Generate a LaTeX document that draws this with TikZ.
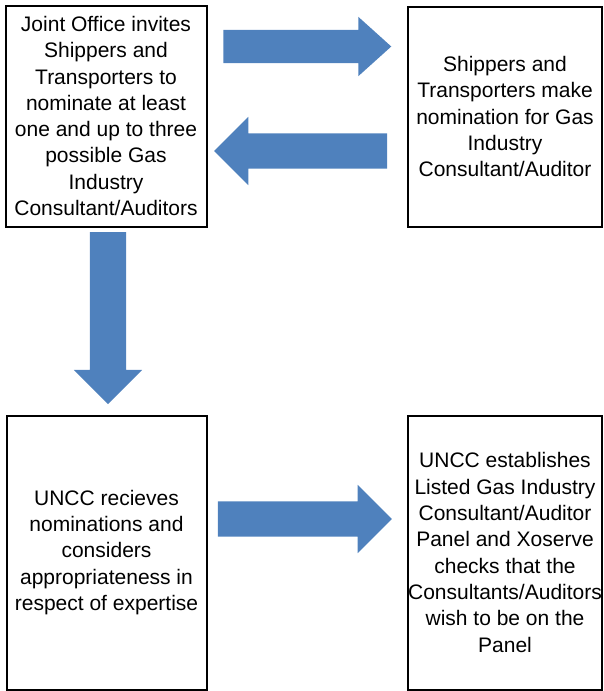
\documentclass[tikz,border=0pt]{standalone}
\usepackage{fontspec}
\setmainfont{Liberation Sans}
\usepackage{tikz}
\usetikzlibrary{positioning,shapes.arrows}
\definecolor{arrowblue}{HTML}{4F81BD}

\begin{document}
\begin{tikzpicture}[x=1pt,y=-1pt,
    stagebox/.style={draw, line width=2pt, align=center, inner sep=0pt,
      font=\fontsize{21}{26.3}\selectfont},
    bigarrow/.style={single arrow, fill=arrowblue, draw=none, inner xsep=0pt,
      single arrow tip angle=90}]
  \useasboundingbox (0,0) rectangle (604,691);

  % the four stages
  \node[stagebox, minimum width=201pt, minimum height=221pt] (invite) at (106,116)
    {Joint Office invites\\ Shippers and\\ Transporters to\\ nominate at least\\
     one and up to three\\ possible Gas\\ Industry\\ Consultant/Auditors};
  \node[stagebox, minimum width=194pt, minimum height=220pt] (nominate) at (505,116.5)
    {Shippers and\\ Transporters make\\ nomination for Gas\\ Industry\\ Consultant/Auditor};
  \node[stagebox, minimum width=200pt, minimum height=274pt] (receive) at (106.5,552.5)
    {UNCC recieves\\ nominations and\\ considers\\ appropriateness in\\ respect of expertise};
  \node[stagebox, minimum width=194pt, minimum height=274pt] (panel) at (505,552.5)
    {UNCC establishes\\ Listed Gas Industry\\ Consultant/Auditor\\ Panel and Xoserve\\
     checks that the\\ Consultants/Auditors\\ wish to be on the\\ Panel};

  % block arrows between them
  \node[bigarrow, minimum height=168pt, minimum width=59pt, inner ysep=16.5pt,
    single arrow head extend=13pt, single arrow tip angle=84] (toNominate) at (298,46.5) {};
  \node[bigarrow, minimum height=173pt, minimum width=68pt, inner ysep=17.5pt,
    single arrow head extend=16.5pt, shape border rotate=180] (toInvite) at (309.5,151) {};
  \node[bigarrow, minimum height=172pt, minimum width=68pt, inner xsep=18pt, inner ysep=0pt,
    single arrow head extend=16pt, shape border rotate=270] (toReceive) at (108,309) {};
  \node[bigarrow, minimum height=174pt, minimum width=68pt, inner ysep=17.5pt,
    single arrow head extend=16.5pt] (toPanel) at (296,519) {};
\end{tikzpicture}
\end{document}
